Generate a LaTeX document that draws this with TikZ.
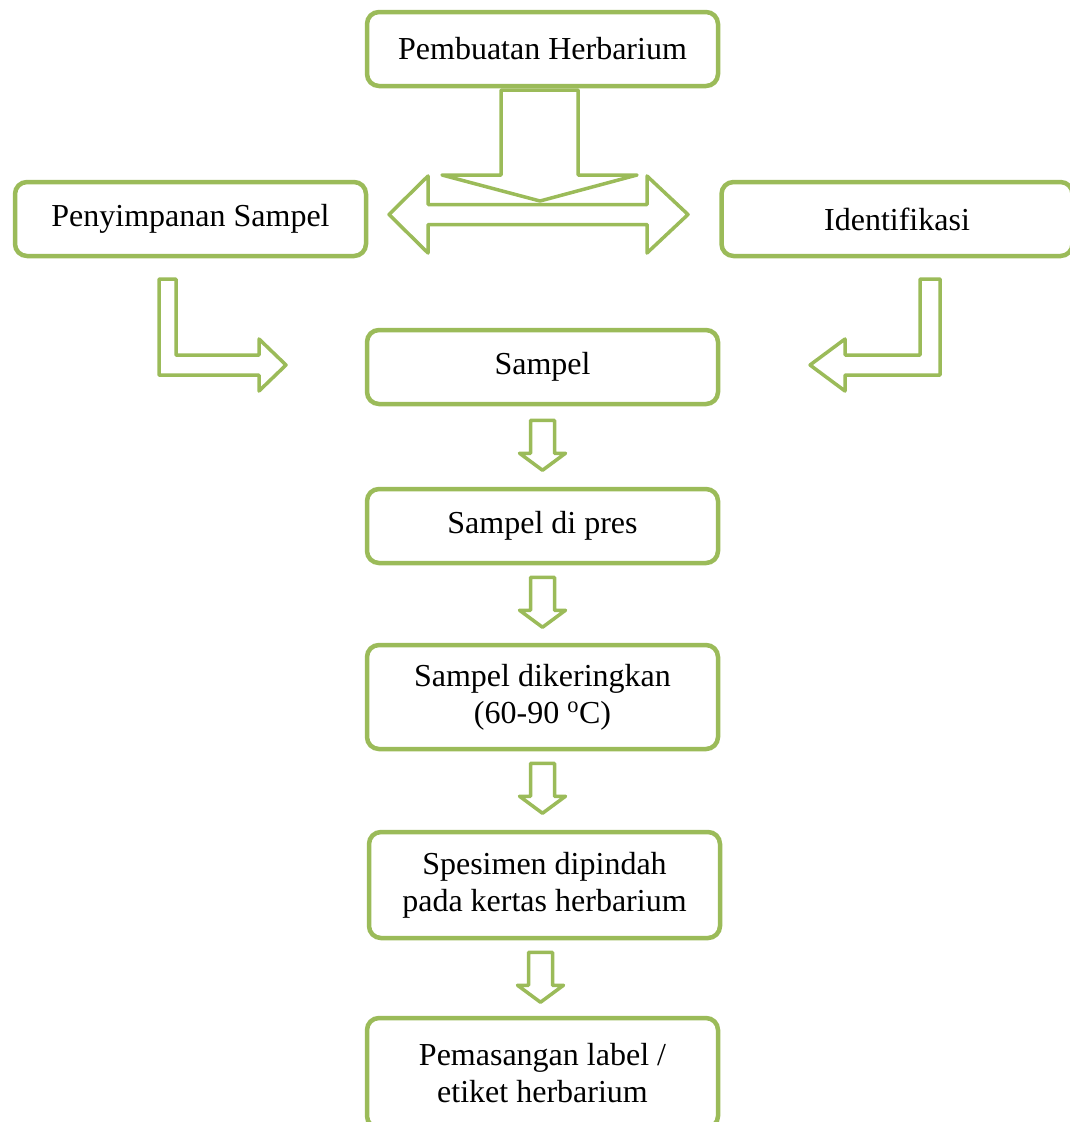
\documentclass[tikz,border=0pt]{standalone}
\usepackage{fontspec}
\setmainfont{Liberation Serif}
\usetikzlibrary{calc}
\definecolor{leafgreen}{RGB}{155,187,89}
\tikzset{
  stepbox/.style={draw=leafgreen, line width=4.5pt, rounded corners=12pt, fill=white,
    minimum width=351pt, minimum height=74pt, align=center,
    font=\fontsize{32}{37}\selectfont},
  blockarrow/.style={draw=leafgreen, line width=3.5pt, fill=white, line join=round},
  downblock/.pic={\draw[blockarrow] (-12,0) -- (12,0) -- (12,33) -- (23,33) -- (0,50) -- (-23,33) -- (-12,33) -- cycle;}
}
\begin{document}
\begin{tikzpicture}[x=1pt,y=-1pt]
  \useasboundingbox (0,0) rectangle (1070,1122);
  \node[stepbox] (herb) at (542.5,49) {Pembuatan Herbarium};
  \node[stepbox] (simpan) at (190.5,219) {Penyimpanan Sampel};
  \node[stepbox] (ident) at (897,219) {Identifikasi};
  \node[stepbox] (sampel) at (542.5,367) {Sampel};
  \node[stepbox] (pres) at (542.5,526) {Sampel di pres};
  \node[stepbox, minimum height=104pt] (kering) at (542.5,697) {Sampel dikeringkan\\(60-90 \raisebox{2pt}{\textsuperscript{o}}C)};
  \node[stepbox, minimum height=106pt] (pindah) at (544.5,885) {Spesimen dipindah\\pada kertas herbarium};
  \node[stepbox, minimum height=110pt] (label) at (542.5,1073) {Pemasangan label /\\etiket herbarium};
  % double arrow, then the big arrow over it
  \draw[blockarrow] (389,214.5) -- (428,176) -- (428,204.5) -- (647,204.5) -- (647,176) -- (688,214.5)
    -- (647,253) -- (647,224.5) -- (428,224.5) -- (428,253) -- cycle;
  \draw[blockarrow] (501,90) -- (578,90) -- (578,175) -- (637,175) -- (540,201) -- (442,175) -- (501,175) -- cycle;
  % bent arrows
  \draw[blockarrow] (159,279) -- (176,279) -- (176,355) -- (259,355) -- (259,339) -- (286,365)
    -- (259,391) -- (259,375) -- (159,375) -- cycle;
  \draw[blockarrow] (940,279) -- (920,279) -- (920,355) -- (845,355) -- (845,339) -- (810,365)
    -- (845,391) -- (845,375) -- (940,375) -- cycle;
  % small arrows
  \pic at ($(sampel.south)+(0,14)$) {downblock};
  \pic at ($(pres.south)+(0,12)$) {downblock};
  \pic at ($(kering.south)+(0,12)$) {downblock};
  \pic at ($(pindah.south)+(-4,12)$) {downblock};
\end{tikzpicture}
\end{document}
